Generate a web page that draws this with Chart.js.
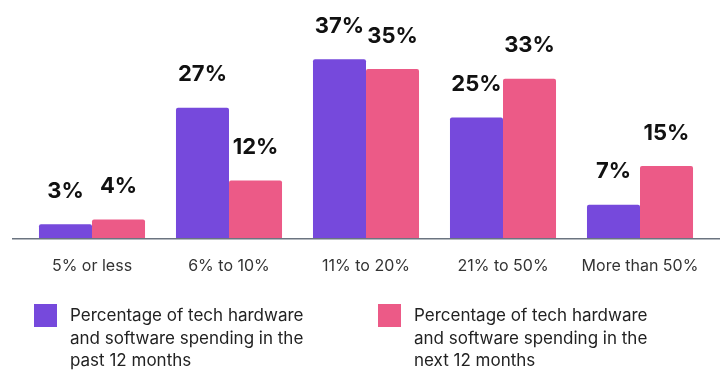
<!DOCTYPE html>
<html>
<head>
<meta charset="utf-8">
<script src="https://cdn.jsdelivr.net/npm/chart.js@4.4.1/dist/chart.umd.min.js"></script>
<style>
  html, body { margin: 0; padding: 0; background: #fff; }
  #wrap { position: relative; width: 724px; height: 370px; }
  #legend { position: absolute; left: 0; top: 304px; width: 724px; font-family: Inter, "Open Sans", sans-serif; font-size: 17px; line-height: 22.5px; color: #222; }
  .item { position: absolute; top: 0; }
  .item .sw { position: absolute; left: 0; top: 0; width: 23px; height: 23px; }
  .item .txt { position: absolute; left: 36px; top: 0; width: 300px; }
</style>
</head>
<body>
<div id="wrap">
  <canvas id="spendChart" width="724" height="370"></canvas>
  <div id="legend"></div>
</div>
<script>
var categories = ['5% or less', '6% to 10%', '11% to 20%', '21% to 50%', 'More than 50%'];
var pastValues = [3, 27, 37, 25, 7];
var nextValues = [4, 12, 35, 33, 15];
var seriesNames = [
  'Percentage of tech hardware and software spending in the past 12 months',
  'Percentage of tech hardware and software spending in the next 12 months'
];
var seriesColors = ['#7649dc', '#ec5a87'];

// value labels above each bar
var barLabels = {
  id: 'barLabels',
  afterDatasetsDraw: function (chart) {
    var ctx = chart.ctx;
    ctx.save();
    ctx.font = 'bold 22px Inter, "Open Sans", sans-serif';
    ctx.fillStyle = '#111';
    ctx.textAlign = 'center';
    ctx.textBaseline = 'bottom';
    chart.data.datasets.forEach(function (ds, i) {
      chart.getDatasetMeta(i).data.forEach(function (bar, j) {
        ctx.fillText(ds.data[j] + '%', bar.x, bar.y - 22);
      });
    });
    ctx.restore();
  }
};

// baseline runs a bit past the plot area on both sides
var baseLine = {
  id: 'baseLine',
  afterDatasetsDraw: function (chart) {
    var ctx = chart.ctx;
    var y = chart.scales.y.getPixelForValue(0);
    ctx.save();
    ctx.strokeStyle = '#6b7480';
    ctx.lineWidth = 1.5;
    ctx.beginPath();
    ctx.moveTo(12, y);
    ctx.lineTo(720, y);
    ctx.stroke();
    ctx.restore();
  }
};

new Chart(document.getElementById('spendChart'), {
  type: 'bar',
  data: {
    labels: categories,
    datasets: [
      { label: seriesNames[0], data: pastValues, backgroundColor: seriesColors[0] },
      { label: seriesNames[1], data: nextValues, backgroundColor: seriesColors[1] }
    ]
  },
  options: {
    responsive: false,
    animation: false,
    layout: { padding: { left: 23.5, right: 15.5, top: 6, bottom: 84 } },
    datasets: {
      bar: { categoryPercentage: 0.774, barPercentage: 1, borderRadius: { topLeft: 2, topRight: 2 }, borderSkipped: 'bottom' }
    },
    plugins: {
      legend: { display: false },
      tooltip: { enabled: false }
    },
    scales: {
      x: {
        grid: { display: false },
        border: { display: false },
        ticks: { padding: 10, color: '#333', font: { family: 'Inter, "Open Sans", sans-serif', size: 16 } }
      },
      y: {
        display: false,
        min: 0,
        max: 48
      }
    }
  },
  plugins: [barLabels, baseLine]
});

// legend with wrapped text
var legendBox = document.getElementById('legend');
var lefts = [34, 378];
seriesNames.forEach(function (name, i) {
  var item = document.createElement('div');
  item.className = 'item';
  item.style.left = lefts[i] + 'px';
  item.innerHTML = '<div class="sw" style="background:' + seriesColors[i] + '"></div>' +
    '<div class="txt">' + name.replace(' and software spending in the ', '<br>and software spending in the<br>') + '</div>';
  legendBox.appendChild(item);
});
</script>
</body>
</html>
